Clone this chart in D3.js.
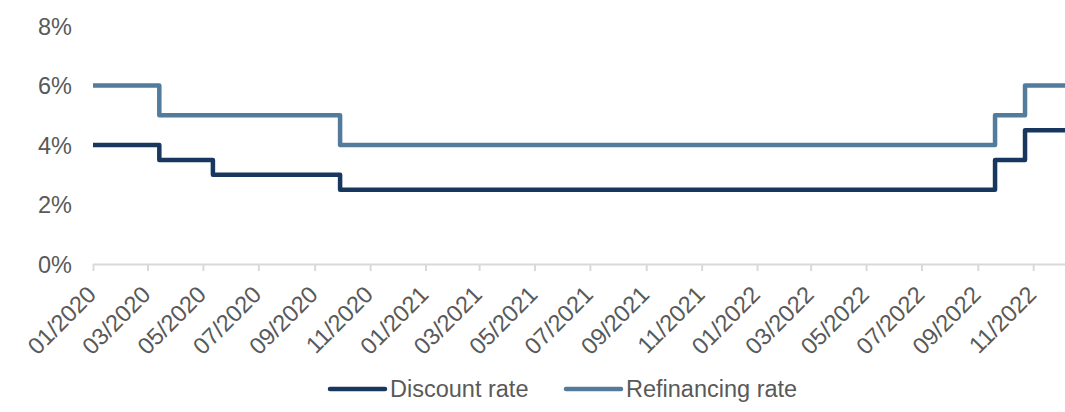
<!DOCTYPE html>
<html>
<head>
<meta charset="utf-8">
<script src="https://cdn.jsdelivr.net/npm/d3@7"></script>
<style>
  html, body { margin: 0; padding: 0; background: #ffffff; }
  svg { display: block; }
  text { font-family: "Liberation Sans", Arial, sans-serif; fill: #595959; }
</style>
</head>
<body>
<svg id="chart" width="1065" height="412"></svg>
<script>
// Policy rate change dates (step starts) and the last observation
const changeDates = ["2020-01-01", "2020-03-14", "2020-05-12", "2020-09-29", "2022-09-20", "2022-10-23", "2022-12-06"];
const discountRate = [4, 3.5, 3, 2.5, 3.5, 4.5, 4.5];
const refinancingRate = [6, 5, 5, 4, 5, 6, 6];
const yTicks = [0, 2, 4, 6, 8];
const seriesNames = ["Discount rate", "Refinancing rate"];
const seriesColors = ["#17375e", "#537b9b"];

const parse = d3.timeParse("%Y-%m-%d");
const dates = changeDates.map(parse);

const svg = d3.select("#chart");
const plotLeft = 93, plotRight = 1065, plotTop = 26, plotBottom = 264;
const fontSize = "23.5px";

const x = d3.scaleTime()
  .domain([dates[0], dates[dates.length - 1]])
  .range([plotLeft, plotRight]);
const y = d3.scaleLinear().domain([0, 8]).range([plotBottom, plotTop]);

// Y axis labels only (no axis line, no gridlines)
const yAxis = svg.append("g")
  .attr("transform", `translate(${plotLeft - 21},0)`)
  .call(d3.axisLeft(y).tickValues(yTicks).tickSize(0).tickPadding(0).tickFormat(d => d + "%"));
yAxis.select(".domain").remove();
yAxis.selectAll("text")
  .attr("x", 0)
  .attr("dy", "0.35em")
  .style("font-size", fontSize)
  .style("fill", "#595959");

// X axis with two-month ticks
const xTickVals = d3.timeMonth.every(2).range(dates[0], dates[dates.length - 1]);
const xAxis = svg.append("g")
  .attr("transform", `translate(0,${plotBottom})`)
  .call(d3.axisBottom(x).tickValues(xTickVals).tickSize(7).tickFormat(d3.timeFormat("%m/%Y")));
xAxis.select(".domain").attr("stroke", "#d9d9d9").attr("stroke-width", 2)
  .attr("d", `M${plotLeft},0.5H${plotRight}`);
xAxis.selectAll(".tick line").attr("stroke", "#d9d9d9").attr("stroke-width", 2);
xAxis.selectAll(".tick text")
  .style("font-size", fontSize)
  .style("fill", "#595959")
  .attr("text-anchor", "end")
  .attr("x", 0)
  .attr("y", 0)
  .attr("dy", 0)
  .attr("transform", "translate(4,32) rotate(-45)");

// Step lines
const line = d3.line()
  .curve(d3.curveStepAfter)
  .x((d, i) => x(dates[i]))
  .y(d => y(d));

[discountRate, refinancingRate].forEach((vals, k) => {
  svg.append("path")
    .datum(vals)
    .attr("fill", "none")
    .attr("stroke", seriesColors[k])
    .attr("stroke-width", 4.5)
    .attr("stroke-linejoin", "round")
    .attr("d", line);
});

// Legend
const legendItems = [{ x: 330 }, { x: 566 }];
legendItems.forEach((it, k) => {
  const g = svg.append("g").attr("transform", `translate(${it.x},389)`);
  g.append("line")
    .attr("x1", 0).attr("x2", 55).attr("y1", 0).attr("y2", 0)
    .attr("stroke", seriesColors[k]).attr("stroke-width", 4.5)
    .attr("stroke-linecap", "round");
  g.append("text")
    .attr("x", 60).attr("y", 0).attr("dy", "0.35em")
    .style("font-size", fontSize)
    .text(seriesNames[k]);
});
</script>
</body>
</html>
